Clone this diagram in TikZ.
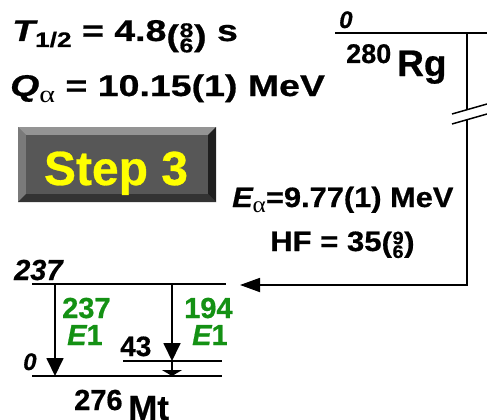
\documentclass[tikz,border=0pt]{standalone}
\usepackage{fontspec}
\usepackage{graphicx}
\setmainfont{Liberation Sans}[BoldFeatures={FakeBold=0.6},BoldItalicFeatures={FakeBold=0.6}]
\newfontfamily\serifa{Liberation Serif}
\usetikzlibrary{arrows.meta}
\definecolor{lvlgreen}{RGB}{20,145,20}
\definecolor{stepyellow}{RGB}{255,255,0}
\newcommand{\fs}[1]{\fontsize{#1}{#1}\selectfont}
% parenthesised stacked pair: {top}{bottom}{digit size}{vertical shift}
\newcommand{\pstack}[4]{\raisebox{#4}{(\kern0.5pt\raisebox{-0.212em}{\fs{#3}\vbox{\offinterlineskip\halign{\hfil##\hfil\cr #1\cr\noalign{\kern1pt}#2\cr}}}\kern0.5pt)}}
\begin{document}
\begin{tikzpicture}[x=1pt,y=-1pt,
  txt/.style={inner sep=0pt,anchor=base west,font=\bfseries},
  lvl/.style={line width=1.8pt},
  trans/.style={line width=1.8pt,-{Triangle[length=18pt,width=17pt]}},
  conn/.style={line width=1.8pt}]
\useasboundingbox (0,0) rectangle (487,420);

% top-left data
\node[txt] (thalf) at (12,41) {\scalebox{1.25}[1]{\fs{30}\bfseries\itshape T\upshape\raisebox{-6pt}{\fs{21}1/2} = 4.8\pstack{8}{6}{20}{-5pt} s}};
\node[txt] (qalpha) at (10,96) {\scalebox{1.25}[1]{\fs{30}\bfseries\itshape Q\upshape\raisebox{-6pt}{\fs{24}\mdseries\serifa α} = 10.15(1) MeV}};

% Step 3 button
\fill[black!62] (18,127) rectangle (216,202);
\fill[black!42] (18,127) -- (216,127) -- (208,135) -- (26,135) -- cycle;
\fill[black!52] (18,127) -- (26,135) -- (26,194) -- (18,202) -- cycle;
\fill[black!80] (18,202) -- (26,194) -- (208,194) -- (216,202) -- cycle;
\fill[black!88] (216,127) -- (208,135) -- (208,194) -- (216,202) -- cycle;
\fill[black!66] (26,135) rectangle (208,194);
\node[inner sep=0pt,anchor=base,font=\fs{48}\bfseries,text=stepyellow] (step) at (116,185) {Step 3};

% parent 280Rg
\coordinate (rgL) at (335,33);
\coordinate (rgR) at (487,33);
\coordinate (rgV) at (467,33);
\coordinate (brkA) at (467,109);
\coordinate (brkB) at (467,119);
\coordinate (corner) at (467,285);
\coordinate (tip) at (240,285);
\coordinate (slA1) at (452,114);
\coordinate (slA2) at (487,104);
\coordinate (slB1) at (452,124);
\coordinate (slB2) at (487,114);
\draw[lvl] (rgL) -- (rgR);
\node[txt,font=\fs{24}\bfseries\itshape] (rg0) at (339,28) {0};
\node[txt,font=\fs{27}\bfseries] (rgA) at (346,63) {280};
\node[txt,font=\fs{37}\bfseries] (rgname) at (397,76) {Rg};
\draw[conn] (rgV) -- (brkA);
\draw[line width=1.5pt] (slA1) -- (slA2);
\draw[line width=1.5pt] (slB1) -- (slB2);
\draw[conn,-{Triangle[length=20pt,width=14pt]}] (brkB) -- (corner) -- (tip);

\node[txt] (ealpha) at (232,207) {\scalebox{1.1}[1]{\fs{28}\bfseries\itshape E\upshape\raisebox{-5pt}{\fs{23}\mdseries\serifa α}=9.77(1) MeV}};
\node[txt] (hf) at (270,251) {\scalebox{1.11}[1]{\fs{28}\bfseries HF = 35\pstack{9}{6}{18}{-1pt}}};

% daughter 276Mt
\coordinate (m237L) at (32,284);
\coordinate (m237R) at (226,284);
\coordinate (m0L) at (32,376);
\coordinate (m0R) at (222,376);
\coordinate (m43L) at (123,361);
\coordinate (m43R) at (222,361);
\coordinate (a1s) at (55,284);
\coordinate (a1e) at (55,376);
\coordinate (a2s) at (172,284);
\coordinate (a2e) at (172,361);
\coordinate (a3e) at (172,376);
\draw[lvl] (m237L) -- (m237R);
\draw[lvl] (m0L) -- (m0R);
\draw[lvl] (m43L) -- (m43R);
\draw[trans] (a1s) -- (a1e);
\draw[trans] (a2s) -- (a2e);
\draw[line width=1.5pt,-{Triangle[length=6pt,width=20pt]}] (a2e) -- (a3e);

\node[txt,font=\fs{29}\bfseries\itshape] (l237) at (14,280) {237};
\node[txt,font=\fs{24}\bfseries\itshape] (l0) at (23,370) {0};
\node[txt,font=\fs{28}\bfseries] (l43) at (120,356) {43};
\node[txt,font=\fs{29}\bfseries,text=lvlgreen] (g237) at (62,318) {237};
\node[txt,font=\fs{29}\bfseries\itshape,text=lvlgreen] (g237m) at (67,345) {E\upshape 1};
\node[txt,font=\fs{29}\bfseries,text=lvlgreen] (g194) at (184,318) {194};
\node[txt,font=\fs{29}\bfseries\itshape,text=lvlgreen] (g194m) at (192,345) {E\upshape 1};
\node[txt,font=\fs{29}\bfseries] (mtA) at (74,410) {276};
\node[txt,font=\fs{35}\bfseries] (mtname) at (128,420) {Mt};
\end{tikzpicture}
\end{document}
